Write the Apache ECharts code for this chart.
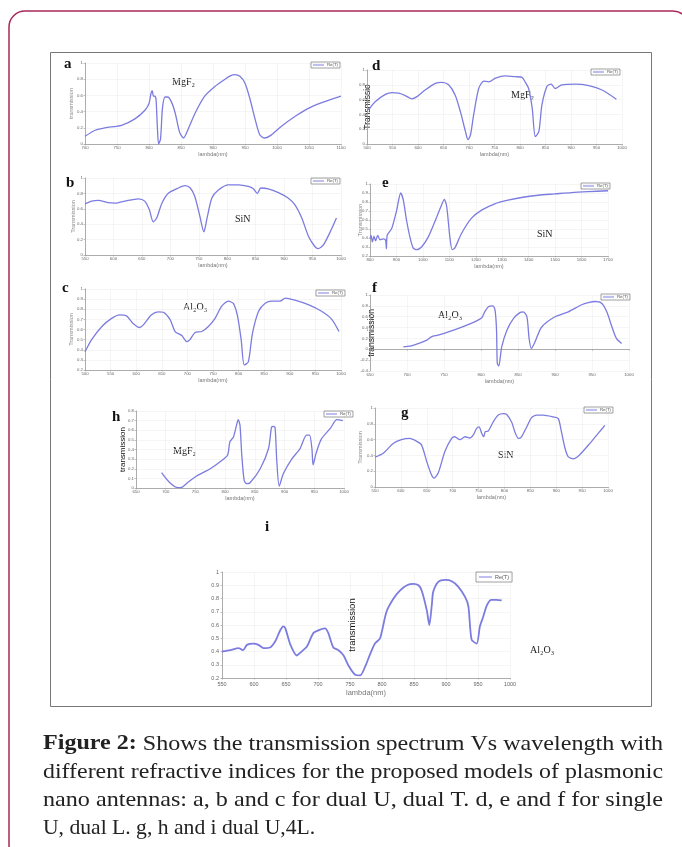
<!DOCTYPE html>
<html>
<head>
<meta charset="utf-8">
<script src="https://cdn.jsdelivr.net/npm/echarts@6/dist/echarts.min.js"></script>
<style>
  html, body { margin: 0; padding: 0; background: #fff; }
  #main { width: 682px; height: 847px; }
</style>
</head>
<body>
<div id="main"></div>
<script>
// [lambda (nm), transmission]
var aPoints = [[700,0.095],[716,0.17],[731,0.2],[757,0.23],[778,0.31],[794,0.42],[800,0.5],[803,0.62],[805,0.66],[807,0.59],
  [809,0.59],[811,0.55],[813,0.22],[815,0.0],[818,0.06],[821,0.44],[825,0.58],[829,0.58],[835,0.52],[841,0.38],
  [848,0.14],[854,0.074],[861,0.18],[872,0.38],[887,0.59],[903,0.71],[919,0.8],[927,0.84],[934,0.856],[942,0.835],
  [950,0.75],[958,0.55],[966,0.3],[973,0.115],[980,0.074],[989,0.1],[1007,0.22],[1028,0.34],[1049,0.44],[1070,0.51],[1100,0.59]];
var bPoints = [[550,0.665],[562,0.7],[573,0.71],[591,0.68],[603,0.675],[620,0.7],[644,0.73],[655,0.7],[663,0.59],[670,0.43],
  [676,0.48],[685,0.67],[696,0.8],[714,0.87],[726,0.9],[735,0.87],[743,0.76],[752,0.5],[759,0.3],[764,0.46],
  [773,0.74],[784,0.84],[802,0.91],[820,0.91],[837,0.89],[846,0.86],[853,0.8],[859,0.87],[872,0.86],[890,0.81],
  [907,0.74],[919,0.65],[931,0.48],[943,0.24],[954,0.11],[960,0.083],[969,0.13],[981,0.3],[992,0.48]];
var cPoints = [[500,0.38],[513,0.5],[533,0.63],[552,0.71],[568,0.745],[581,0.735],[594,0.66],[607,0.62],[614,0.646],[630,0.745],
  [643,0.775],[653,0.77],[666,0.7],[676,0.58],[689,0.54],[699,0.48],[705,0.5],[715,0.57],[728,0.58],[741,0.63],
  [754,0.71],[767,0.83],[780,0.88],[790,0.855],[798,0.73],[805,0.5],[811,0.25],[819,0.28],[827,0.56],[839,0.78],
  [852,0.86],[865,0.88],[881,0.88],[891,0.91],[910,0.89],[936,0.845],[962,0.78],[982,0.7],[996,0.58]];
var dPoints = [[503,0.46],[516,0.57],[536,0.67],[549,0.695],[562,0.686],[575,0.655],[588,0.61],[598,0.64],[614,0.73],[634,0.82],
  [647,0.834],[660,0.8],[673,0.66],[683,0.44],[693,0.17],[698,0.058],[703,0.125],[709,0.39],[719,0.75],[729,0.85],
  [739,0.84],[752,0.89],[771,0.92],[791,0.91],[804,0.9],[810,0.84],[817,0.75],[824,0.48],[830,0.1],[837,0.17],
  [843,0.53],[853,0.78],[861,0.81],[869,0.75],[882,0.8],[908,0.81],[935,0.79],[961,0.73],[989,0.605]];
var ePoints = [[800,0.393],[804,0.43],[809,0.356],[815,0.42],[821,0.367],[829,0.43],[838,0.38],[850,0.39],[859,0.375],[862,0.28],
  [865,0.43],[882,0.505],[901,0.71],[916,0.9],[926,0.82],[938,0.6],[951,0.41],[963,0.29],[976,0.27],[995,0.3],
  [1020,0.41],[1045,0.58],[1071,0.77],[1081,0.83],[1090,0.75],[1102,0.41],[1111,0.27],[1121,0.29],[1146,0.45],[1184,0.62],
  [1222,0.71],[1272,0.78],[1322,0.82],[1373,0.85],[1436,0.875],[1499,0.89],[1562,0.905],[1624,0.915],[1700,0.925]];
var fPoints = [[695,0.044],[704,0.057],[715,0.106],[727,0.17],[733,0.23],[742,0.26],[756,0.32],[774,0.41],[792,0.51],[801,0.58],
  [805,0.69],[810,0.785],[816,0.8],[819,0.72],[821,0.35],[822,-0.26],[824,-0.31],[828,0.044],[835,0.35],[844,0.57],
  [853,0.68],[857,0.69],[862,0.6],[865,0.2],[868,0.014],[873,0.137],[882,0.41],[900,0.6],[918,0.69],[936,0.82],
  [945,0.86],[954,0.88],[963,0.85],[970,0.69],[977,0.41],[983,0.2],[990,0.106]];
var gPoints = [[550,0.377],[566,0.427],[585,0.55],[601,0.6],[617,0.615],[630,0.58],[640,0.53],[650,0.32],[659,0.155],[664,0.113],
  [672,0.176],[685,0.45],[698,0.615],[704,0.636],[714,0.6],[724,0.636],[733,0.62],[740,0.66],[746,0.74],[751,0.76],
  [756,0.68],[760,0.636],[763,0.7],[769,0.71],[778,0.82],[788,0.91],[798,0.93],[804,0.92],[814,0.82],[820,0.7],
  [827,0.615],[833,0.636],[843,0.76],[852,0.875],[862,0.91],[875,0.91],[894,0.887],[904,0.866],[910,0.7],[917,0.49],
  [923,0.385],[933,0.356],[945,0.406],[965,0.552],[981,0.678],[994,0.78]];
var hPoints = [[693,0.16],[707,0.055],[721,0.003],[727,0.007],[738,0.062],[752,0.125],[775,0.2],[791,0.27],[804,0.34],[808,0.48],
  [814,0.53],[819,0.65],[822,0.71],[825,0.65],[828,0.34],[832,0.08],[836,0.045],[842,0.055],[859,0.2],[873,0.41],
  [878,0.63],[881,0.64],[884,0.63],[887,0.27],[891,0.02],[898,0.15],[912,0.3],[926,0.41],[937,0.55],[942,0.55],
  [946,0.41],[948,0.24],[953,0.36],[962,0.51],[977,0.62],[988,0.71],[998,0.7]];
var iPoints = [[550,0.4],[563,0.41],[576,0.425],[579,0.42],[583,0.41],[589,0.45],[599,0.46],[607,0.45],[615,0.425],[625,0.43],
  [633,0.475],[641,0.56],[646,0.59],[649,0.575],[657,0.45],[667,0.37],[672,0.39],[683,0.44],[693,0.54],[706,0.57],
  [711,0.575],[716,0.54],[724,0.43],[732,0.41],[740,0.37],[748,0.29],[758,0.225],[766,0.22],[774,0.29],[781,0.375],
  [789,0.46],[797,0.5],[807,0.7],[818,0.8],[828,0.86],[839,0.9],[849,0.91],[857,0.9],[862,0.86],[870,0.71],
  [874,0.6],[878,0.76],[880,0.85],[888,0.925],[899,0.94],[909,0.93],[919,0.89],[930,0.81],[935,0.74],[940,0.49],
  [948,0.46],[953,0.59],[958,0.66],[964,0.75],[971,0.79],[979,0.79],[987,0.785]];

var captionLines = [
  'Shows the transmission spectrum Vs wavelength with',
  'different refractive indices for the proposed models of plasmonic',
  'nano antennas: a, b and c for dual U, dual T. d, e and f for single',
  'U, dual L. g, h and i dual U,4L.'
];

var lineColor = '#7c7ce0';
var panels = [
  {letter:'a', pts:aPoints, left:85, top:63, width:256, height:81, x:[700,1100,50], y:[0,1,0.2],
   yName:'transmission', yDark:false, yGap:11, mat:'MgF₂', matPos:[172,82], letPos:[64,64], leg:[311,62]},
  {letter:'d', pts:dPoints, left:367, top:70, width:255, height:74, x:[500,1000,50], y:[0,1,0.2],
   yName:'Transmissio', yDark:true, yGap:-5, ySize:8.5, mat:'MgF₂', matPos:[511,95], letPos:[372,66], leg:[591,69]},
  {letter:'b', pts:bPoints, left:85, top:178, width:256, height:77, x:[550,1000,50], y:[0,1,0.2],
   yName:'Transmission', yDark:false, yGap:9, mat:'SiN', matPos:[235,219], letPos:[66,183], leg:[311,178]},
  {letter:'e', pts:ePoints, left:370, top:184, width:238, height:72, x:[800,1700,100], y:[0.2,1,0.1],
   yName:'Transmission', yDark:false, yGap:7, mat:'SiN', matPos:[537,234], letPos:[382,183], leg:[581,183]},
  {letter:'c', pts:cPoints, left:85, top:289, width:256, height:81, x:[500,1000,50], y:[0.2,1,0.1],
   yName:'Transmission', yDark:false, yGap:11, mat:'Al₂O₃', matPos:[183,307], letPos:[62,288], leg:[316,290]},
  {letter:'f', pts:fPoints, left:370, top:295, width:259, height:76, x:[650,1000,50], y:[-0.4,1,0.2],
   yName:'transmission', yDark:true, yGap:-6, ySize:8.5, mat:'Al₂O₃', matPos:[438,315], letPos:[372,288], leg:[601,294]},
  {letter:'h', pts:hPoints, left:136, top:411, width:208, height:77, x:[650,1000,50], y:[0,0.8,0.1],
   yName:'transmission', yDark:true, yGap:9, ySize:8, mat:'MgF₂', matPos:[173,451], letPos:[112,417], leg:[324,411]},
  {letter:'g', pts:gPoints, left:375, top:408, width:233, height:79, x:[550,1000,50], y:[0,1,0.2],
   yName:'Transmission', yDark:false, yGap:12, mat:'SiN', matPos:[498,455], letPos:[401,413], leg:[584,407]},
  {letter:'i', pts:iPoints, left:222, top:572, width:288, height:106, x:[550,1000,50], y:[0.2,1,0.1],
   yName:'transmission', yDark:true, yGap:-135, ySize:9.5, mat:'Al₂O₃', matPos:[530,650], letPos:[265,527], leg:[476,572], big:true}
];

var grids = [], xAxes = [], yAxes = [], series = [], legends = [], graphics = [];

// frame and inner box
graphics.push({type:'rect', shape:{x:9, y:11, width:680, height:850, r:16}, style:{fill:'none', stroke:'#a8285a', lineWidth:1.5}});
graphics.push({type:'rect', shape:{x:50.5, y:52.5, width:601, height:654}, style:{fill:'none', stroke:'#777', lineWidth:1}});

panels.forEach(function (p, i) {
  var big = !!p.big;
  grids.push({left:p.left, top:p.top, width:p.width, height:p.height, containLabel:false});
  xAxes.push({
    type:'value', gridIndex:i, min:p.x[0], max:p.x[1], interval:p.x[2],
    name:'lambda(nm)', nameLocation:'middle', nameGap: big ? 11 : 7, nameMoveOverlap:false,
    nameTextStyle:{color:'#777', fontSize: big ? 7.5 : 5.5, fontFamily:'Liberation Sans'},
    axisLine:{lineStyle:{color:'#999', width:0.8}},
    axisTick:{show:true, length:1.5, lineStyle:{color:'#999', width:0.6}},
    axisLabel:{fontSize: big ? 5.5 : 4.3, color:'#666', margin: big ? 3 : 2, fontFamily:'Liberation Sans',
      formatter:function (v) { return String(v); }},
    splitLine:{show:true, lineStyle:{color:'#eeeeee', width:0.6}}
  });
  yAxes.push({
    type:'value', gridIndex:i, min:p.y[0], max:p.y[1], interval:p.y[2],
    name:p.yName, nameLocation:'middle', nameGap:p.yGap, nameMoveOverlap:false,
    nameTextStyle: p.yDark
      ? {color:'#111', fontSize:p.ySize, fontFamily:'Liberation Sans'}
      : {color:'#888', fontSize:5.5, fontFamily:'Liberation Sans'},
    axisLine:{show:true, lineStyle:{color:'#999', width:0.8}},
    axisTick:{show:true, length:1.5, lineStyle:{color:'#999', width:0.6}},
    axisLabel:{fontSize: big ? 5.5 : 4.3, color:'#666', margin: big ? 3 : 2, fontFamily:'Liberation Sans'},
    splitLine:{show:true, lineStyle:{color:'#eeeeee', width:0.6}}
  });
  series.push({
    name:'Re(T)', type:'line', xAxisIndex:i, yAxisIndex:i, data:p.pts,
    showSymbol:false, smooth:0.25, lineStyle:{color:lineColor, width: big ? 1.8 : 1.3},
    itemStyle:{color:lineColor}
  });
  legends.push({
    data:['Re(T)'], left:p.leg[0], top:p.leg[1], icon:'rect',
    itemWidth: big ? 13 : 11, itemHeight: 1, itemGap:2,
    padding: big ? [2,3] : [1,2],
    borderColor:'#888', borderWidth:0.8,
    textStyle:{fontSize: big ? 5.5 : 4.3, color:'#555', padding:[0,0,0,-2], fontFamily:'Liberation Sans'},
    selectedMode:false
  });
  graphics.push({type:'text', x:p.letPos[0], y:p.letPos[1],
    style:{text:p.letter, font:'bold 15px "Liberation Serif"', fill:'#111', textVerticalAlign:'middle'}});
  graphics.push({type:'text', x:p.matPos[0], y:p.matPos[1],
    style:{text:p.mat, font:'10px "Liberation Serif"', fill:'#222', textVerticalAlign:'middle'}});
});

// caption, fitted to the justified width of the original
var ctx = document.createElement('canvas').getContext('2d');
var capFont = '21px "Liberation Serif"', capBold = 'bold 21px "Liberation Serif"';
var capY = [744, 772, 800, 828];
captionLines.forEach(function (t, k) {
  var w;
  ctx.font = capFont;
  if (k === 0) {
    w = ctx.measureText(' ' + t).width;
    ctx.font = capBold;
    w += ctx.measureText('Figure 2:').width;
  } else {
    w = ctx.measureText(t).width;
  }
  var sx = k < 3 ? 620 / w : 1.03;
  graphics.push({type:'text', x:43, y:capY[k], scaleX:sx,
    style:{
      text: k === 0 ? '{b|Figure 2:} ' + t : t,
      font:capFont, fill:'#222', textVerticalAlign:'middle',
      rich:{b:{font:capBold, fill:'#222'}}
    }});
});

var chart = echarts.init(document.getElementById('main'));
chart.setOption({
  animation:false,
  backgroundColor:'#fff',
  grid:grids, xAxis:xAxes, yAxis:yAxes, series:series, legend:legends,
  graphic:graphics
});
</script>
</body>
</html>
